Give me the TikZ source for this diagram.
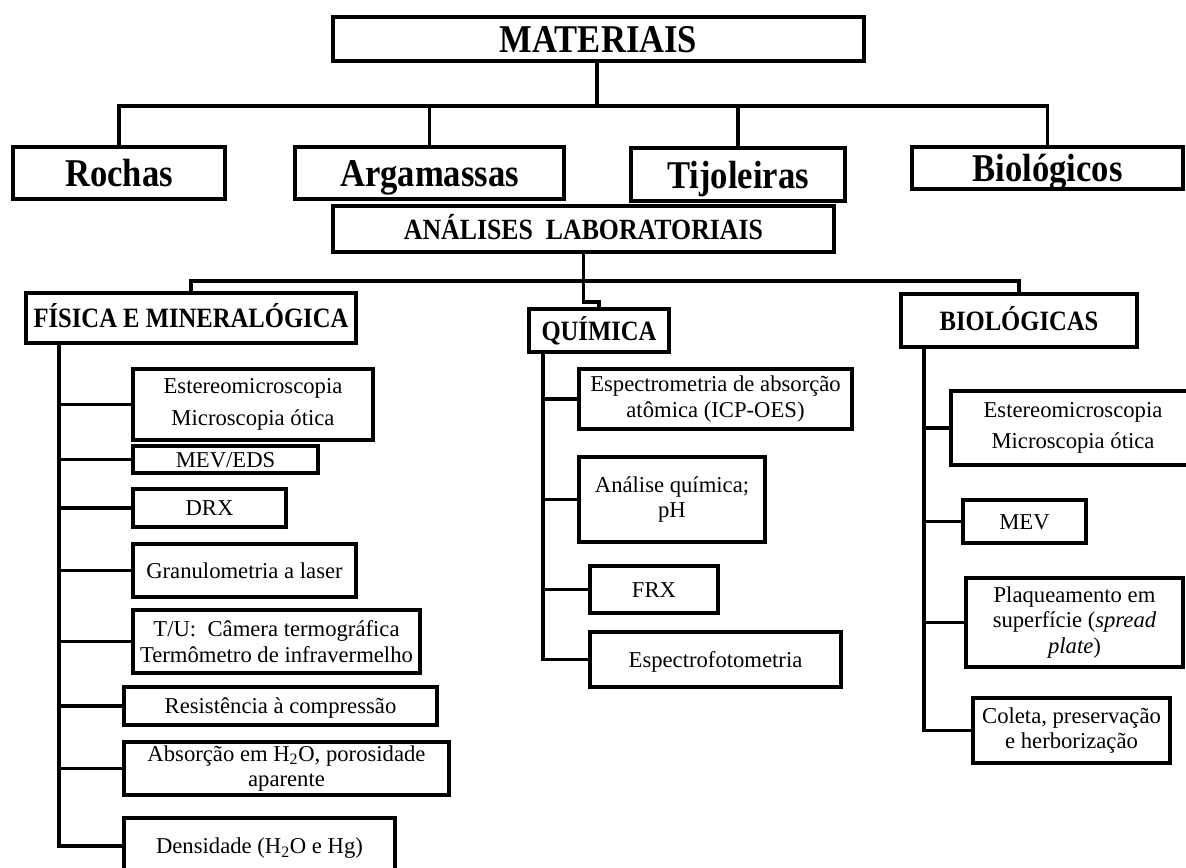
\documentclass[tikz,border=0pt]{standalone}
\usepackage{fontspec}
\setmainfont{Liberation Serif}
\newfontfamily\tallbf[FakeStretch=0.88]{Liberation Serif Bold}
\tikzset{
  box/.style={draw, line width=2.4pt, inner sep=0pt, outer sep=0pt, align=center, fill=white},
  corners/.style n args={4}{minimum width={(#3-#1)*0.75pt}, minimum height={(#4-#2)*0.75pt}, at={({(#1+#3)/2},{(#2+#4)/2})}},
  oneline/.style={text height=#1, text depth=0pt},
  bigtxt/.style={font=\tallbf\fontsize{29.5}{33}\selectfont, oneline=20.3pt},
  anatxt/.style={font=\tallbf\fontsize{22}{25}\selectfont, oneline=15pt},
  midtxt/.style={font=\tallbf\fontsize{21}{24}\selectfont, oneline=14.5pt},
  smalltxt/.style={font=\fontsize{17}{19}\selectfont},
  sone/.style={oneline=11.5pt},
  conn/.style={line width=2.4pt, line join=miter},
}
\begin{document}
\begin{tikzpicture}[x=0.75pt,y=-0.75pt]
\useasboundingbox (0,0) rectangle (1186,868);
% top level
\node[box,bigtxt,corners={333}{17}{864}{61}] (mat) {MATERIAIS};
\node[box,bigtxt,corners={13}{147}{225}{199}] (roc) {Rochas};
\node[box,bigtxt,corners={295}{147}{564}{199}] (arg) {Argamassas};
\node[box,bigtxt,corners={631}{148}{845}{201}] (tij) {Tijoleiras};
\node[box,bigtxt,corners={912}{147}{1183}{189}] (bio) {Biológicos};
\coordinate (bar1) at (597,106);
\draw[conn] (mat.south -| bar1) -- (bar1);
\draw[conn] (roc.north) |- (bar1) -| (bio.north);
\draw[conn] (arg.north) -- (arg.north |- bar1);
\draw[conn] (tij.north) -- (tij.north |- bar1);
% second level
\node[box,anatxt,corners={333}{206}{834}{252}] (ana) {ANÁLISES\ \ LABORATORIAIS};
\node[box,midtxt,corners={26}{293}{356}{343}] (fis) {FÍSICA E MINERALÓGICA};
\node[box,midtxt,corners={529}{309}{669}{352}] (qui) {QUÍMICA};
\node[box,midtxt,corners={901}{294}{1137}{347}] (bgc) {BIOLÓGICAS};
\coordinate (bar2) at (583.5,281);
\coordinate (jog) at (583.5,302);
\draw[conn] (fis.north) |- (bar2) -| (bgc.north);
\draw[conn] (ana.south) -- (jog) -| (qui.north);
% fisica children
\node[box,smalltxt,corners={133}{369}{373}{440}] (f1) {Estereomicroscopia\\[5pt]Microscopia ótica};
\node[box,smalltxt,sone,corners={133}{446}{318}{473}] (f2) {MEV/EDS};
\node[box,smalltxt,sone,corners={133}{489}{286}{527}] (f3) {DRX};
\node[box,smalltxt,sone,corners={133}{544}{356}{597}] (f4) {Granulometria a laser};
\node[box,smalltxt,corners={133}{610}{420}{673}] (f5) {T/U:\ \ Câmera termográfica\\Termômetro de infravermelho};
\node[box,smalltxt,sone,corners={124}{687}{437}{725}] (f6) {Resistência à compressão};
\node[box,smalltxt,corners={124}{742}{449}{795}] (f7) {Absorção em H\textsubscript{2}O, porosidade\\aparente};
\node[box,smalltxt,sone,corners={124}{818}{395}{874}] (f8) {Densidade (H\textsubscript{2}O e Hg)};
\coordinate (ft) at (59,343);
\draw[conn] (ft) |- (f8.west);
\foreach \n in {f1,f2,f3,f4,f5,f6,f7}{\draw[conn] (ft |- \n.west) -- (\n.west);}
% quimica children
\node[box,smalltxt,corners={579}{369}{852}{429}] (q1) {Espectrometria de absorção\\atômica (ICP-OES)};
\node[box,smalltxt,corners={579}{457}{765}{542}] (q2) {Análise química;\\pH};
\node[box,smalltxt,sone,corners={590}{566}{718}{613}] (q3) {FRX};
\node[box,smalltxt,sone,corners={590}{632}{841}{687}] (q4) {Espectrofotometria};
\coordinate (qt) at (543,352);
\draw[conn] (qt) |- (q4.west);
\foreach \n in {q1,q2,q3}{\draw[conn] (qt |- \n.west) -- (\n.west);}
% biologicas children
\node[box,smalltxt,corners={951}{391}{1195}{465}] (b1) {Estereomicroscopia\\[4pt]Microscopia ótica};
\node[box,smalltxt,sone,corners={963}{500}{1086}{543}] (b2) {MEV};
\node[box,smalltxt,corners={966}{578}{1183}{667}] (b3) {Plaqueamento em\\superfície (\textit{spread}\\\textit{plate})};
\node[box,smalltxt,corners={973}{698}{1170}{763}] (b4) {Coleta, preservação\\e herborização};
\coordinate (bt) at (924,347);
\draw[conn] (bt) |- (b4.west);
\foreach \n in {b1,b2,b3}{\draw[conn] (bt |- \n.west) -- (\n.west);}
\end{tikzpicture}
\end{document}
